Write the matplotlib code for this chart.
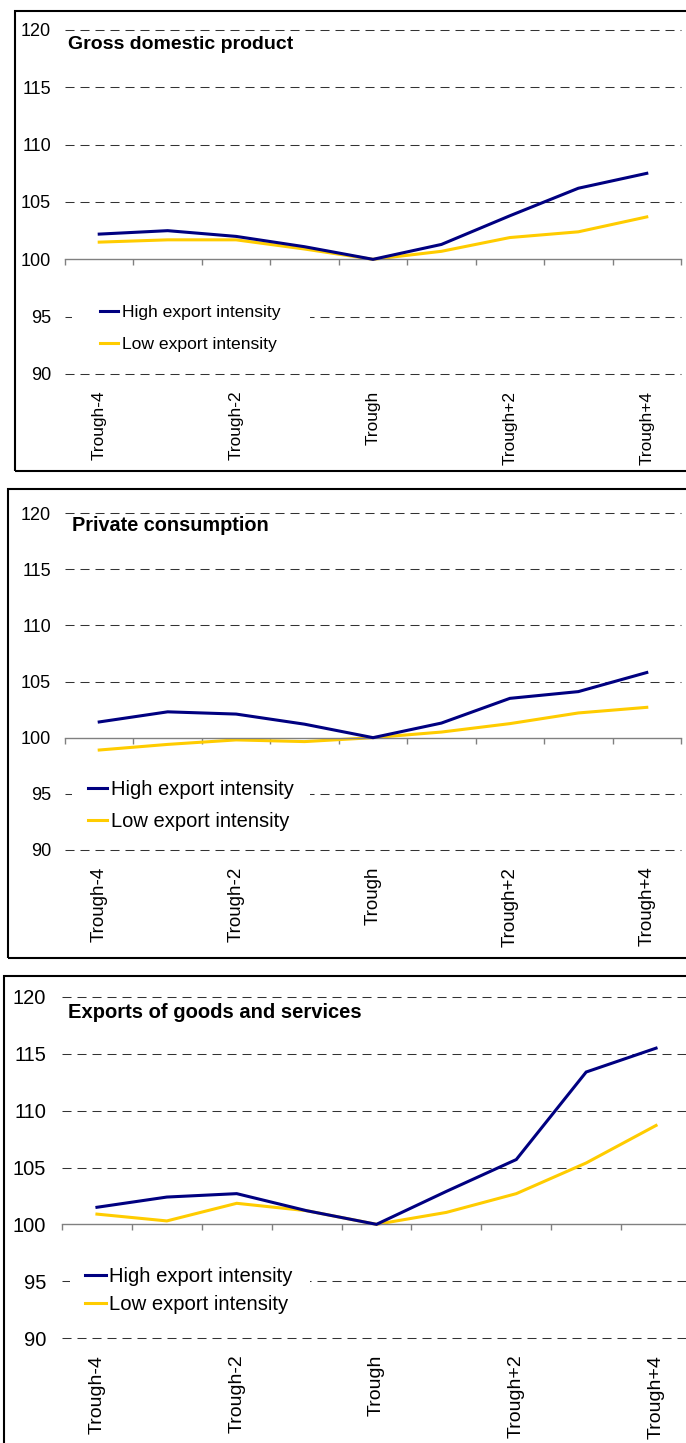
import matplotlib
matplotlib.use("Agg")
import matplotlib.pyplot as plt
from matplotlib.patches import Rectangle

plt.rcParams['font.family'] = ['Liberation Sans', 'DejaVu Sans']
plt.rcParams['lines.scale_dashes'] = False

categories = ['Trough-4', 'Trough-3', 'Trough-2', 'Trough-1', 'Trough',
              'Trough+1', 'Trough+2', 'Trough+3', 'Trough+4']
shown_labels = ['Trough-4', 'Trough-2', 'Trough', 'Trough+2', 'Trough+4']
series_names = ['High export intensity', 'Low export intensity']
y_ticks = [90, 95, 100, 105, 110, 115, 120]

gdp_high = [102.2, 102.5, 102.0, 101.1, 100.0, 101.3, 103.8, 106.2, 107.5]
gdp_low = [101.5, 101.7, 101.7, 100.9, 100.0, 100.7, 101.9, 102.4, 103.7]
cons_high = [101.4, 102.3, 102.1, 101.2, 100.0, 101.3, 103.5, 104.1, 105.8]
cons_low = [98.9, 99.4, 99.8, 99.65, 100.0, 100.5, 101.25, 102.2, 102.7]
exp_high = [101.5, 102.4, 102.7, 101.2, 100.0, 102.9, 105.7, 113.4, 115.5]
exp_low = [100.9, 100.3, 101.85, 101.2, 100.0, 101.05, 102.7, 105.4, 108.7]

W, H = 686, 1443
fig = plt.figure(figsize=(W / 100, H / 100), dpi=100)


def fx(x):
    return x / W


def fy(y):
    return 1 - y / H


# layout per panel, all in pixels of the output image
panels = [
    dict(title='Gross domestic product', high=gdp_high, low=gdp_low,
         frame=(15, 11, 720, 471), axes=(65, 30, 681, 374),
         title_xy=(68, 49), leg_xy=(100, 328.5), leg_box=(72, 296, 310, 362),
         fs_y=13, fs_x=12.4, fs_leg=12.6, fs_title=14, pad_y=10,
         leg_hl=1.03, leg_pad=0.23, leg_sp=0.93),
    dict(title='Private consumption', high=cons_high, low=cons_low,
         frame=(8, 489, 720, 958), axes=(65, 513, 681, 850),
         title_xy=(72, 531), leg_xy=(88, 805.5), leg_box=(72, 772, 310, 840),
         fs_y=13, fs_x=13.5, fs_leg=14.5, fs_title=14.3, pad_y=10,
         leg_hl=0.95, leg_pad=0.18, leg_sp=0.69),
    dict(title='Exports of goods and services', high=exp_high, low=exp_low,
         frame=(4, 976, 720, 1460), axes=(62, 997, 691, 1338),
         title_xy=(68, 1018), leg_xy=(85, 1290.5), leg_box=(70, 1262, 310, 1320),
         fs_y=14.5, fs_x=14, fs_leg=14.6, fs_title=14.5, pad_y=11.5,
         leg_hl=1.03, leg_pad=0.15, leg_sp=0.48),
]

x = list(range(len(categories)))

for p in panels:
    # black frame round each chart
    l, t, r, b = p['frame']
    fig.patches.append(Rectangle((fx(l), fy(b)), fx(r) - fx(l), fy(t) - fy(b),
                                 transform=fig.transFigure, fill=False,
                                 edgecolor='black', linewidth=1.5))

    l, t, r, b = p['axes']
    ax = fig.add_axes([fx(l), fy(b), fx(r) - fx(l), fy(t) - fy(b)])
    ax.set_facecolor('none')

    ax.plot(x, p['high'], color='#000080', lw=2.2, label=series_names[0],
            solid_joinstyle='miter', zorder=3)
    ax.plot(x, p['low'], color='#FFCC00', lw=2.2, label=series_names[1],
            solid_joinstyle='miter', zorder=2)

    ax.set_xlim(-0.5, len(categories) - 0.5)
    ax.set_ylim(90, 120)

    for s in ['top', 'right', 'left']:
        ax.spines[s].set_visible(False)
    ax.spines['bottom'].set_position(('data', 100))
    ax.spines['bottom'].set_color('#808080')
    ax.spines['bottom'].set_linewidth(1.0)

    ax.set_xticks([i - 0.5 for i in range(len(categories) + 1)])
    ax.set_xticklabels([])
    ax.tick_params(axis='x', direction='out', length=4, width=1.0, color='#808080')

    ax.set_yticks(y_ticks)
    ax.set_yticklabels([str(v) for v in y_ticks], fontsize=p['fs_y'])
    ax.tick_params(axis='y', length=0, pad=p['pad_y'])

    ax.set_axisbelow(True)
    ax.yaxis.grid(True, color='#333333', lw=0.75, dashes=(6.5, 4.3))
    for tk, v in zip(ax.yaxis.get_major_ticks(), y_ticks):
        tk.gridline.set_clip_on(False)
        if v == 100:
            tk.gridline.set_visible(False)

    # category labels sit below the 90 line
    sec = ax.secondary_xaxis(0)
    sec.set_xticks([categories.index(c) for c in shown_labels])
    sec.set_xticklabels(shown_labels, rotation=90, fontsize=p['fs_x'], va='top')
    sec.tick_params(length=0, pad=12)
    sec.spines['bottom'].set_visible(False)

    # white box behind legend hides the gridline there
    l2, t2, r2, b2 = p['leg_box']
    ax.add_patch(Rectangle((fx(l2), fy(b2)), fx(r2) - fx(l2), fy(t2) - fy(b2),
                           transform=fig.transFigure, facecolor='white',
                           edgecolor='none', zorder=1))

    lx, ly = p['leg_xy']
    ax.legend(loc='center left', bbox_to_anchor=(fx(lx), fy(ly)),
              bbox_transform=fig.transFigure, frameon=False,
              fontsize=p['fs_leg'], handlelength=p['leg_hl'],
              handletextpad=p['leg_pad'], labelspacing=p['leg_sp'],
              borderpad=0, borderaxespad=0)

    tx, ty = p['title_xy']
    fig.text(fx(tx), fy(ty), p['title'], fontsize=p['fs_title'],
             fontweight='bold', ha='left', va='baseline')

fig.savefig('out.png', dpi=100)
